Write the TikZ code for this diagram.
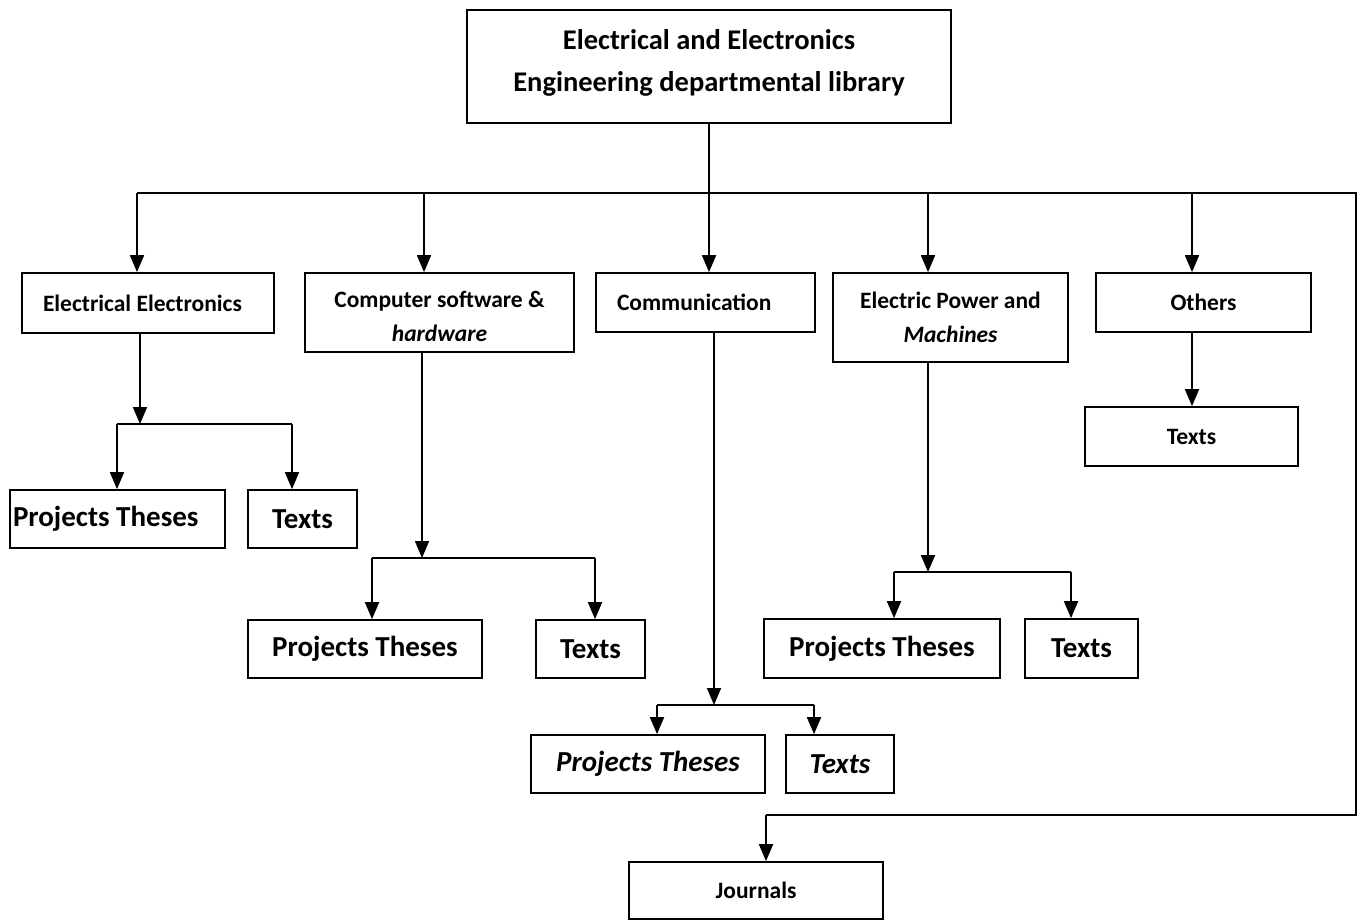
\documentclass[tikz,border=0pt]{standalone}
\usepackage{fontspec}
\setmainfont{Carlito}
\usetikzlibrary{arrows.meta}
\begin{document}
\begin{tikzpicture}[x=1pt,y=-1pt,
  box/.style={draw,line width=1.7pt,inner sep=0pt,align=center},
  ftitle/.style={font=\bfseries\fontsize{28.5}{42}\selectfont},
  fmid/.style={font=\bfseries\fontsize{23.5}{34}\selectfont},
  fbig/.style={font=\bfseries\fontsize{29}{32}\selectfont},
  ln/.style={line width=1.8pt},
  arr/.style={line width=1.8pt,-{Triangle[length=17pt,width=14pt]}}]
\useasboundingbox (0,0) rectangle (1359,921);
% nodes
\node[box,ftitle,minimum width=484pt,minimum height=113pt,text depth=13pt] (top) at (709,66.5) {Electrical and Electronics\\Engineering departmental library};
\node[box,fmid,minimum width=252pt,minimum height=60pt,text width=210pt,align=flush left,inner xsep=21pt] (ee) at (148,303) {Electrical Electronics};
\node[box,fmid,minimum width=269pt,minimum height=79pt,text height=59pt] (csh) at (439.5,312.5) {Computer software \&\\\itshape hardware};
\node[box,fmid,minimum width=219pt,minimum height=59pt,text width=177pt,align=flush left,inner xsep=21pt] (com) at (705.5,302.5) {Communication};
\node[box,fmid,minimum width=235pt,minimum height=89pt] (epm) at (950.5,317.5) {Electric Power and\\\itshape Machines};
\node[box,fmid,minimum width=215pt,minimum height=59pt] (oth) at (1203.5,302.5) {Others};
\node[box,fmid,minimum width=213pt,minimum height=59pt] (ot) at (1191.5,436.5) {Texts};
\node[box,fbig,minimum width=215pt,minimum height=58pt,text width=209pt,align=flush left,inner xsep=3pt] (eept) at (117.5,519) {Projects Theses};
\node[box,fbig,minimum width=109pt,minimum height=58pt] (eet) at (302.5,519) {Texts};
\node[box,fbig,minimum width=234pt,minimum height=58pt] (cspt) at (365,649) {Projects Theses};
\node[box,fbig,minimum width=109pt,minimum height=58pt] (cst) at (590.5,649) {Texts};
\node[box,fbig,minimum width=234pt,minimum height=58pt] (copt) at (648,764) {\itshape Projects Theses};
\node[box,fbig,minimum width=108pt,minimum height=58pt] (cot) at (840,764) {\itshape Texts};
\node[box,fbig,minimum width=236pt,minimum height=59pt] (eppt) at (882,648.5) {Projects Theses};
\node[box,fbig,minimum width=113pt,minimum height=59pt] (ept) at (1081.5,648.5) {Texts};
\node[box,fmid,minimum width=254pt,minimum height=57pt] (jour) at (756,890.5) {Journals};
% coordinates
\coordinate (bl) at (137,193);
\coordinate (b2) at (424,193);
\coordinate (b4) at (928,193);
\coordinate (b5) at (1192,193);
\coordinate (br) at (1356,193);
\coordinate (jr) at (1356,815);
\coordinate (jl) at (766,815);
\coordinate (e1) at (140,424);
\coordinate (ebl) at (117,424);
\coordinate (ebr) at (292,424);
\coordinate (c1) at (422,558);
\coordinate (cbl) at (372,558);
\coordinate (cbr) at (595,558);
\coordinate (m1) at (714,705);
\coordinate (mbl) at (657,705);
\coordinate (mbr) at (814,705);
\coordinate (p1) at (928,572);
\coordinate (pbl) at (894,572);
\coordinate (pbr) at (1071,572);
% connectors
\draw[ln] (top.south) -- (top.south |- bl);
\draw[ln,line join=miter] (bl) -- (br) -- (jr) -- (jl);
\draw[arr] (jl) -- (jl |- jour.north);
\draw[arr] (bl) -- (bl |- ee.north);
\draw[arr] (b2) -- (b2 |- csh.north);
\draw[arr] (top.south |- bl) -- (top.south |- com.north);
\draw[arr] (b4) -- (b4 |- epm.north);
\draw[arr] (b5) -- (b5 |- oth.north);
\draw[arr] (oth.south -| b5) -- (ot.north -| b5);
% EE subtree
\draw[arr] (ee.south -| e1) -- (e1);
\draw[ln] (ebl) -- (ebr);
\draw[arr] (ebl) -- (ebl |- eept.north);
\draw[arr] (ebr) -- (ebr |- eet.north);
% CSH subtree
\draw[arr] (csh.south -| c1) -- (c1);
\draw[ln] (cbl) -- (cbr);
\draw[arr] (cbl) -- (cbl |- cspt.north);
\draw[arr] (cbr) -- (cbr |- cst.north);
% Comm subtree
\draw[arr] (com.south -| m1) -- (m1);
\draw[ln] (mbl) -- (mbr);
\draw[arr] (mbl) -- (mbl |- copt.north);
\draw[arr] (mbr) -- (mbr |- cot.north);
% EPM subtree
\draw[arr] (epm.south -| p1) -- (p1);
\draw[ln] (pbl) -- (pbr);
\draw[arr] (pbl) -- (pbl |- eppt.north);
\draw[arr] (pbr) -- (pbr |- ept.north);
\end{tikzpicture}
\end{document}
